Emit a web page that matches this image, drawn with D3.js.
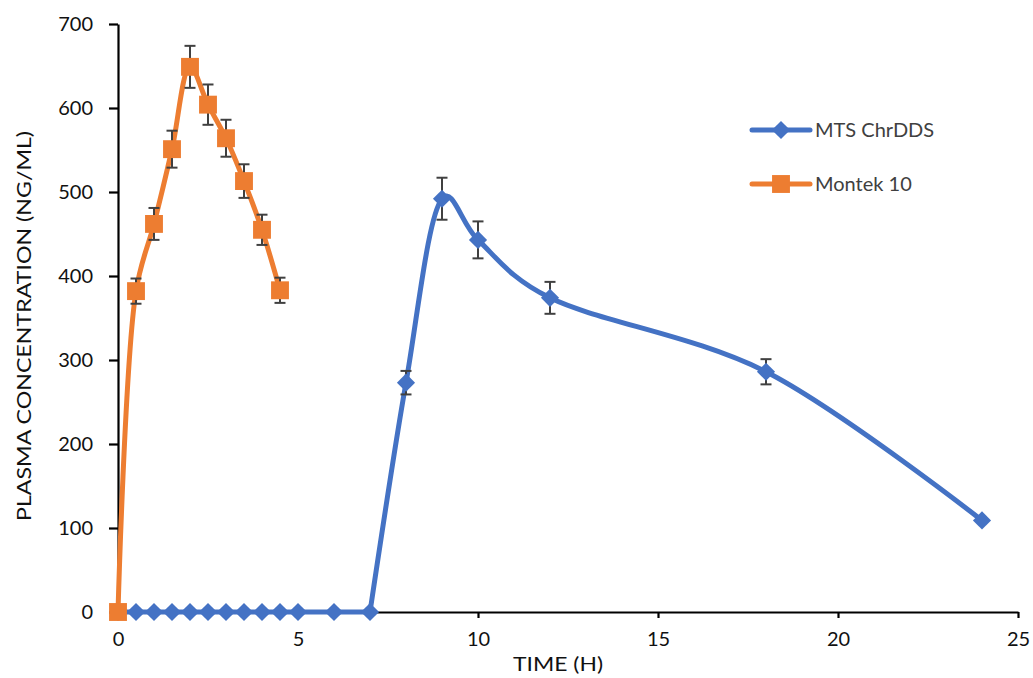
<!DOCTYPE html>
<html><head><meta charset="utf-8">
<script src="https://cdn.jsdelivr.net/npm/d3@7"></script>
<style>body{margin:0;background:#fff}svg{display:block}text{font-family:Lato,"Open Sans",sans-serif}</style>
</head><body>
<svg id="c" width="1033" height="678"></svg>
<script>
// Data
const mtsTime = [0,0.5,1,1.5,2,2.5,3,3.5,4,4.5,5,6,7,8,9,10,12,18,24];
const mtsConc = [0,0,0,0,0,0,0,0,0,0,0,0,0,273,492,443,374,286,109];
const mtsErr  = [0,0,0,0,0,0,0,0,0,0,0,0,0,14,25,22,19,15,0];
const montekTime = [0,0.5,1,1.5,2,2.5,3,3.5,4,4.5];
const montekConc = [0,382,462,551,649,604,564,513,455,383];
const montekErr  = [0,15,19,22,25,24,22,20,18,15];
const xTicks = [0,5,10,15,20,25];
const yTicks = [0,100,200,300,400,500,600,700];
const seriesNames = ["MTS ChrDDS","Montek 10"];

const svg = d3.select("#c");
const x = d3.scaleLinear().domain([0,25]).range([118,1018]);
const y = d3.scaleLinear().domain([0,700]).range([612,24]);
const blue = "#4472C4", orange = "#ED7D31";
const FONT = 'Lato,"Open Sans",sans-serif';

// axes
const yAx = svg.append("g").attr("transform","translate(118,0)")
  .call(d3.axisLeft(y).tickValues(yTicks).tickSize(9).tickPadding(16).tickSizeOuter(0));
const xAx = svg.append("g").attr("transform","translate(0,612)")
  .call(d3.axisBottom(x).tickValues(xTicks).tickSize(6).tickPadding(16).tickSizeOuter(0));
[yAx,xAx].forEach(g=>{
  g.select(".domain").attr("stroke","#000").attr("stroke-width",2.2);
  g.selectAll(".tick line").attr("stroke","#000").attr("stroke-width",2.2);
  g.selectAll(".tick text").attr("fill","#111").style("font-size","20px").style("font-family",FONT);
});
xAx.selectAll(".tick text").attr("dy","0.6em");

svg.append("text").attr("x",558).attr("y",671).attr("text-anchor","middle")
  .style("font-size","19px").attr("fill","#111").attr("textLength",90).attr("lengthAdjust","spacingAndGlyphs").text("TIME (H)");
svg.append("text").attr("transform","translate(31,326) rotate(-90)").attr("text-anchor","middle")
  .style("font-size","20px").attr("fill","#111").attr("textLength",390).attr("lengthAdjust","spacingAndGlyphs").text("PLASMA CONCENTRATION (NG/ML)");

const diamond = {draw(ctx,size){const r=Math.sqrt(size/2);ctx.moveTo(0,-r);ctx.lineTo(r,0);ctx.lineTo(0,r);ctx.lineTo(-r,0);ctx.closePath();}};

function drawSeries(t, c, e, color, shape, size, splitAt, alpha){
  const pts = t.map((d,i)=>({t:d,c:c[i],e:e[i]}));
  const segs = splitAt == null ? [pts] : [pts.filter(d=>d.t<=splitAt), pts.filter(d=>d.t>=splitAt)];
  segs.forEach((s,i)=>{
    const a = (splitAt != null && i === 0) ? 0.5 : alpha;
    const line = d3.line().x(d=>x(d.t)).y(d=>y(d.c)).curve(d3.curveCatmullRom.alpha(a));
    svg.append("path").datum(s).attr("d",line).attr("fill","none")
      .attr("stroke",color).attr("stroke-width",5).attr("stroke-linejoin","round");
  });
  const eb = svg.append("g").attr("stroke","#404040").attr("stroke-width",2);
  pts.filter(d=>d.e>0).forEach(d=>{
    const cx=x(d.t);
    eb.append("line").attr("x1",cx).attr("x2",cx).attr("y1",y(d.c+d.e)).attr("y2",y(d.c-d.e));
    eb.append("line").attr("x1",cx-5.5).attr("x2",cx+5.5).attr("y1",y(d.c+d.e)).attr("y2",y(d.c+d.e));
    eb.append("line").attr("x1",cx-5.5).attr("x2",cx+5.5).attr("y1",y(d.c-d.e)).attr("y2",y(d.c-d.e));
  });
  svg.append("g").selectAll("path").data(pts).join("path")
    .attr("transform",d=>`translate(${x(d.t)},${y(d.c)})`)
    .attr("d",d3.symbol().type(shape).size(size)).attr("fill",color);
}
drawSeries(mtsTime,mtsConc,mtsErr,blue,diamond,165,7,0.2);
drawSeries(montekTime,montekConc,montekErr,orange,d3.symbolSquare,320,null,0.5);

// legend
const leg = [{n:seriesNames[0],c:blue,s:diamond,z:165,y:130},{n:seriesNames[1],c:orange,s:d3.symbolSquare,z:320,y:184}];
leg.forEach(l=>{
  svg.append("line").attr("x1",752).attr("x2",810).attr("y1",l.y).attr("y2",l.y).attr("stroke",l.c).attr("stroke-width",5).attr("stroke-linecap","round");
  svg.append("path").attr("transform",`translate(781,${l.y})`).attr("d",d3.symbol().type(l.s).size(l.z)).attr("fill",l.c);
  svg.append("text").attr("x",815).attr("y",l.y+7).style("font-size","20px").attr("fill","#404040").text(l.n);
});
</script>
</body></html>
